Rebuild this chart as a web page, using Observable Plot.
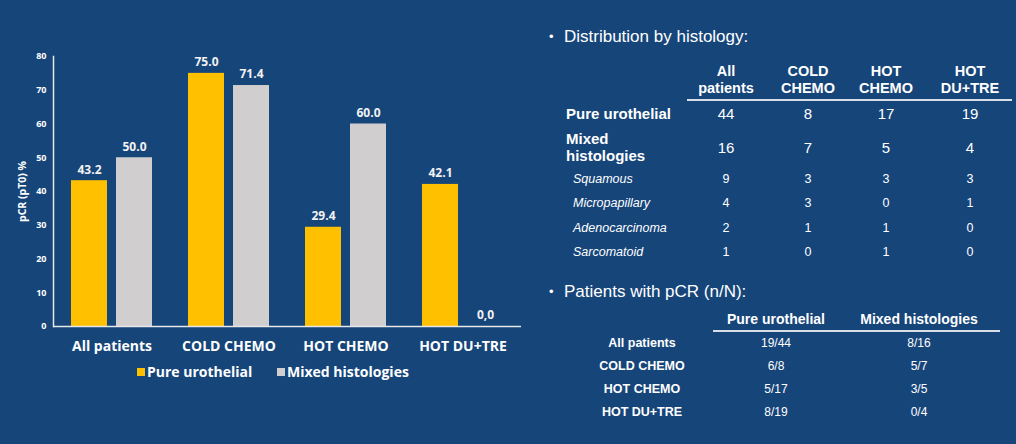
<!DOCTYPE html>
<html>
<head>
<meta charset="utf-8">
<script src="https://cdn.jsdelivr.net/npm/d3@7"></script>
<script src="https://cdn.jsdelivr.net/npm/@observablehq/plot@0.6"></script>
<style>
  html, body { margin: 0; padding: 0; }
  body { width: 1016px; height: 444px; overflow: hidden; background: #16457a; }
  #page { position: relative; width: 1016px; height: 444px; background: #16457a; color: #fff; }
  #chart { position: absolute; left: 0; top: 0; }
  .abs { position: absolute; white-space: pre; line-height: 17px; }
  .ctr { transform: translate(-50%, -50%); text-align: center; }
  .lft { transform: translate(0, -50%); text-align: left; }
  .arial { font-family: "Liberation Sans", Arial, sans-serif; }
  #legend { position: absolute; left: 0; top: 362px; width: 540px; font-family: "Open Sans", sans-serif;
            font-weight: 700; font-size: 14px; color: #fff; }
  .sw { position: absolute; width: 8px; height: 8px; top: 6px; }
</style>
</head>
<body>
<div id="page">
  <div id="chart"></div>
  <div id="legend"></div>
  <div id="tables"></div>
</div>
<script>
// ---- bar chart data ----
const categories = ["All patients", "COLD CHEMO", "HOT CHEMO", "HOT DU+TRE"];
const seriesNames = ["Pure urothelial", "Mixed histologies"];
const pureValues = [43.2, 75.0, 29.4, 42.1];
const mixedValues = [50.0, 71.4, 60.0, 0.0];
const pureLabels = ["43.2", "75.0", "29.4", "42.1"];
const mixedLabels = ["50.0", "71.4", "60.0", "0,0"];
const yTicks = [0, 10, 20, 30, 40, 50, 60, 70, 80];
const seriesColors = ["#ffc000", "#d0cece"];

// ---- table data ----
const histTitle = "Distribution by histology:";
const histColumns = ["All\npatients", "COLD\nCHEMO", "HOT\nCHEMO", "HOT\nDU+TRE"];
const histRows = ["Pure urothelial", "Mixed\nhistologies", "Squamous", "Micropapillary", "Adenocarcinoma", "Sarcomatoid"];
const histAll = [44, 16, 9, 4, 2, 1];
const histCold = [8, 7, 3, 3, 1, 0];
const histHotChemo = [17, 5, 3, 0, 1, 1];
const histHotDuTre = [19, 4, 3, 1, 0, 0];

const pcrTitle = "Patients with pCR (n/N):";
const pcrColumns = ["Pure urothelial", "Mixed histologies"];
const pcrRows = ["All patients", "COLD CHEMO", "HOT CHEMO", "HOT DU+TRE"];
const pcrPure = ["19/44", "6/8", "5/17", "8/19"];
const pcrMixed = ["8/16", "5/7", "3/5", "0/4"];

// ---- build bar table ----
const rows = [];
categories.forEach((c, i) => {
  rows.push({cat: c, series: seriesNames[0], value: pureValues[i], label: pureLabels[i]});
  rows.push({cat: c, series: seriesNames[1], value: mixedValues[i], label: mixedLabels[i]});
});

const chart = Plot.plot({
  width: 530,
  height: 390,
  marginLeft: 53,
  marginRight: 9,
  marginTop: 56,
  marginBottom: 64,
  style: {background: "transparent", color: "#ffffff", fontFamily: "'Open Sans', sans-serif", overflow: "visible"},
  fx: {domain: categories, padding: 0, label: null},
  x: {domain: seriesNames, paddingInner: 0.2, paddingOuter: 0.4, axis: null},
  y: {domain: [0, 80], label: "pCR (pT0) %"},
  color: {domain: seriesNames, range: seriesColors},
  marks: [
    Plot.barY(rows, {fx: "cat", x: "series", y: "value", fill: "series"}),
    Plot.ruleY([0], {stroke: "#e8e8e8", strokeWidth: 1.5}),
    Plot.frame({anchor: "left", facetAnchor: "left", stroke: "#e8e8e8", strokeWidth: 1.5}),
    Plot.text(rows, {fx: "cat", x: "series", y: "value", text: "label", dy: -11,
      fill: "#f2f2f2", fontSize: 12, fontWeight: "bold", letterSpacing: "0.5px"}),
    Plot.axisY({ticks: yTicks, tickSize: 0, tickPadding: 7, fontSize: 9, fontWeight: "bold", label: null}),
    Plot.axisY({ticks: [], tickSize: 0, label: "pCR (pT0) %", labelAnchor: "center", labelArrow: "none",
      labelOffset: 35, fontSize: 10.5, fontWeight: "bold"}),
    Plot.axisFx({anchor: "bottom", tickSize: 0, tickPadding: 15, fontSize: 14, fontWeight: "bold", label: null})
  ]
});
document.getElementById("chart").appendChild(chart);

// ---- legend ----
const legend = document.getElementById("legend");
const legendX = [137, 277];
seriesNames.forEach((s, i) => {
  const sw = document.createElement("div");
  sw.className = "sw";
  sw.style.left = legendX[i] + "px";
  sw.style.background = seriesColors[i];
  legend.appendChild(sw);
  const t = document.createElement("div");
  t.style.position = "absolute";
  t.style.left = (legendX[i] + 10) + "px";
  t.style.top = "0px";
  t.style.whiteSpace = "pre";
  t.textContent = s;
  legend.appendChild(t);
});

// ---- tables ----
const tables = document.getElementById("tables");
function put(text, x, y, cls, style) {
  const d = document.createElement("div");
  d.className = "abs arial " + cls;
  d.style.left = x + "px";
  d.style.top = y + "px";
  Object.assign(d.style, style || {});
  d.textContent = text;
  tables.appendChild(d);
  return d;
}
function rule(x1, x2, y) {
  const d = document.createElement("div");
  d.style.position = "absolute";
  d.style.left = x1 + "px";
  d.style.top = y + "px";
  d.style.width = (x2 - x1) + "px";
  d.style.height = "2px";
  d.style.background = "#d9dde6";
  tables.appendChild(d);
}

// table 1
put("\u2022", 549, 36, "lft", {fontSize: "13px"});
put(histTitle, 564, 36, "lft", {fontSize: "17px"});
const histColX = [726, 808, 886, 970];
const histCols = [histAll, histCold, histHotChemo, histHotDuTre];
histColumns.forEach((c, j) => put(c, histColX[j], 80, "ctr", {fontSize: "14.5px", fontWeight: "bold"}));
rule(687, 1012, 99);
const histRowY = [113, 147, 179, 203, 228, 252];
histRows.forEach((r, i) => {
  const main = i < 2;
  put(r, main ? 566 : 573, histRowY[i], "lft",
      main ? {fontSize: "15px", fontWeight: "bold"} : {fontSize: "12.5px", fontStyle: "italic"});
  histCols.forEach((col, j) => put(String(col[i]), histColX[j], histRowY[i], "ctr",
      {fontSize: main ? "15px" : "12.5px"}));
});

// table 2
put("\u2022", 549, 291, "lft", {fontSize: "13px"});
put(pcrTitle, 564, 291, "lft", {fontSize: "17px"});
const pcrColX = [776, 919];
pcrColumns.forEach((c, j) => put(c, pcrColX[j], 319, "ctr", {fontSize: "14px", fontWeight: "bold"}));
rule(713, 1000, 330);
const pcrRowY = [343, 366, 389, 412];
pcrRows.forEach((r, i) => {
  put(r, 642, pcrRowY[i], "ctr", {fontSize: "12.5px", fontWeight: "bold"});
  put(pcrPure[i], pcrColX[0], pcrRowY[i], "ctr", {fontSize: "12px"});
  put(pcrMixed[i], pcrColX[1], pcrRowY[i], "ctr", {fontSize: "12px"});
});
</script>
</body>
</html>
